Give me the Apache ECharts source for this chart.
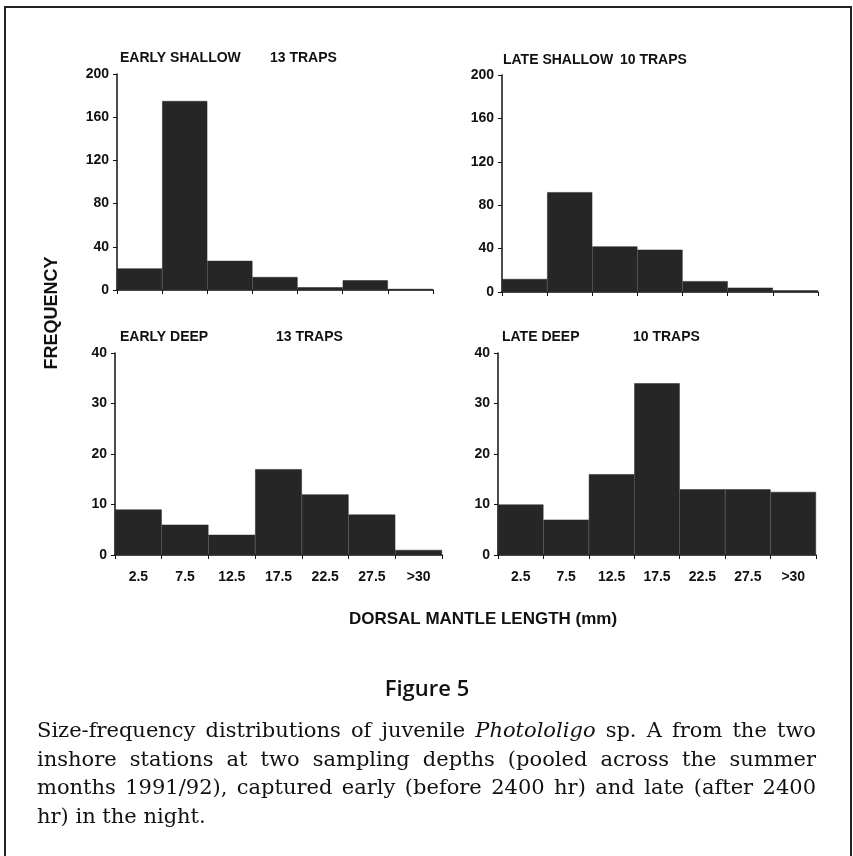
<!DOCTYPE html>
<html>
<head>
<meta charset="utf-8">
<script src="https://cdn.jsdelivr.net/npm/echarts@6/dist/echarts.min.js"></script>
<style>
  html, body { margin: 0; padding: 0; background: #fff; }
  #chart { width: 853px; height: 856px; }
</style>
</head>
<body>
<div id="chart"></div>
<script>
// size classes (mm), shared by all four panels
const categories = ['2.5', '7.5', '12.5', '17.5', '22.5', '27.5', '>30'];

// frequencies
const earlyShallow = [20, 175, 27, 12, 2.5, 9, 1];
const lateShallow = [12, 92, 42, 39, 10, 4, 1.5];
const earlyDeep = [9, 6, 4, 17, 12, 8, 1];
const lateDeep = [10, 7, 16, 34, 13, 13, 12.5];

const shallowTicks = { max: 200, interval: 40 };
const deepTicks = { max: 40, interval: 10 };

const captionLines = [
  'Size-frequency distributions of juvenile Photololigo sp. A from the two',
  'inshore stations at two sampling depths (pooled across the summer',
  'months 1991/92), captured early (before 2400 hr) and late (after 2400',
  'hr) in the night.'
];

const SANS = '"Liberation Sans", Arial, sans-serif';
const SERIF = '"DejaVu Serif", serif';
const INK = '#111';
const BAR = '#262626';

const grids = [
  { left: 117, top: 74, width: 316, height: 216 },
  { left: 502, top: 75, width: 316, height: 217 },
  { left: 115, top: 353, width: 327, height: 202 },
  { left: 498, top: 353, width: 318, height: 202 }
];

function xAxis(gridIndex, showLabels) {
  return {
    type: 'category',
    gridIndex,
    data: categories,
    boundaryGap: true,
    axisLine: { lineStyle: { color: INK, width: 1.5 } },
    axisTick: { show: true, interval: 0, length: 4, lineStyle: { color: INK, width: 1 } },
    axisLabel: {
      show: showLabels,
      interval: 0,
      margin: 15,
      color: INK,
      fontFamily: SANS,
      fontWeight: 'bold',
      fontSize: 14
    },
    splitLine: { show: false }
  };
}

function yAxis(gridIndex, ticks) {
  return {
    type: 'value',
    gridIndex,
    min: 0,
    max: ticks.max,
    interval: ticks.interval,
    axisLine: { show: true, lineStyle: { color: INK, width: 1.5 } },
    axisTick: { show: true, length: 4, lineStyle: { color: INK, width: 1 } },
    axisLabel: {
      margin: 8,
      color: INK,
      fontFamily: SANS,
      fontWeight: 'bold',
      fontSize: 14
    },
    splitLine: { show: false }
  };
}

function barSeries(index, data) {
  return {
    type: 'bar',
    xAxisIndex: index,
    yAxisIndex: index,
    data,
    barCategoryGap: '0%',
    itemStyle: { color: BAR, borderColor: BAR, borderWidth: 0.5 },
    silent: true
  };
}

function label(text, x, y, size) {
  return {
    type: 'text',
    left: x,
    top: y - size / 2 - 1,
    style: { text, fill: INK, font: 'bold ' + size + 'px ' + SANS }
  };
}

// justified caption: measure each word and spread the gaps over the line width
const measureCtx = document.createElement('canvas').getContext('2d');
function captionElements() {
  const els = [];
  const x0 = 37, x1 = 816, y0 = 732, lineGap = 28.5, size = 21;
  captionLines.forEach((line, li) => {
    const words = line.split(' ');
    const fonts = words.map(w => (w === 'Photololigo' ? 'italic ' : '') + size + 'px ' + SERIF);
    const widths = words.map((w, i) => { measureCtx.font = fonts[i]; return measureCtx.measureText(w).width; });
    const total = widths.reduce((a, b) => a + b, 0);
    const last = li === captionLines.length - 1;
    measureCtx.font = size + 'px ' + SERIF;
    const gap = last ? measureCtx.measureText(' ').width : (x1 - x0 - total) / (words.length - 1);
    let x = x0;
    words.forEach((w, i) => {
      els.push({
        type: 'text',
        x,
        y: y0 + li * lineGap,
        style: { text: w, fill: INK, font: fonts[i], textVerticalAlign: 'middle' }
      });
      x += widths[i] + gap;
    });
  });
  return els;
}

const chart = echarts.init(document.getElementById('chart'), null, { renderer: 'canvas' });

chart.setOption({
  animation: false,
  backgroundColor: '#fff',
  grid: grids,
  xAxis: [xAxis(0, false), xAxis(1, false), xAxis(2, true), xAxis(3, true)],
  yAxis: [yAxis(0, shallowTicks), yAxis(1, shallowTicks), yAxis(2, deepTicks), yAxis(3, deepTicks)],
  series: [
    barSeries(0, earlyShallow),
    barSeries(1, lateShallow),
    barSeries(2, earlyDeep),
    barSeries(3, lateDeep)
  ],
  graphic: [
    {
      type: 'rect',
      shape: { x: 5, y: 7, width: 846, height: 860 },
      style: { fill: 'none', stroke: '#222', lineWidth: 2 }
    },
    label('EARLY SHALLOW', 120, 59, 14),
    label('13 TRAPS', 270, 59, 14),
    label('LATE SHALLOW', 503, 61, 14),
    label('10 TRAPS', 620, 61, 14),
    label('EARLY DEEP', 120, 338, 14),
    label('13 TRAPS', 276, 338, 14),
    label('LATE DEEP', 502, 338, 14),
    label('10 TRAPS', 633, 338, 14),
    {
      type: 'text',
      x: 52,
      y: 313,
      rotation: Math.PI / 2,
      style: { text: 'FREQUENCY', fill: INK, font: 'bold 18px ' + SANS, textAlign: 'center', textVerticalAlign: 'middle' }
    },
    {
      type: 'text',
      x: 483,
      y: 619,
      style: { text: 'DORSAL MANTLE LENGTH (mm)', fill: INK, font: 'bold 17px ' + SANS, textAlign: 'center', textVerticalAlign: 'middle' }
    },
    {
      type: 'text',
      x: 427,
      y: 690,
      style: { text: 'Figure 5', fill: INK, font: '600 22px "Open Sans", sans-serif', textAlign: 'center', textVerticalAlign: 'middle' }
    }
  ].concat(captionElements())
});
</script>
</body>
</html>
